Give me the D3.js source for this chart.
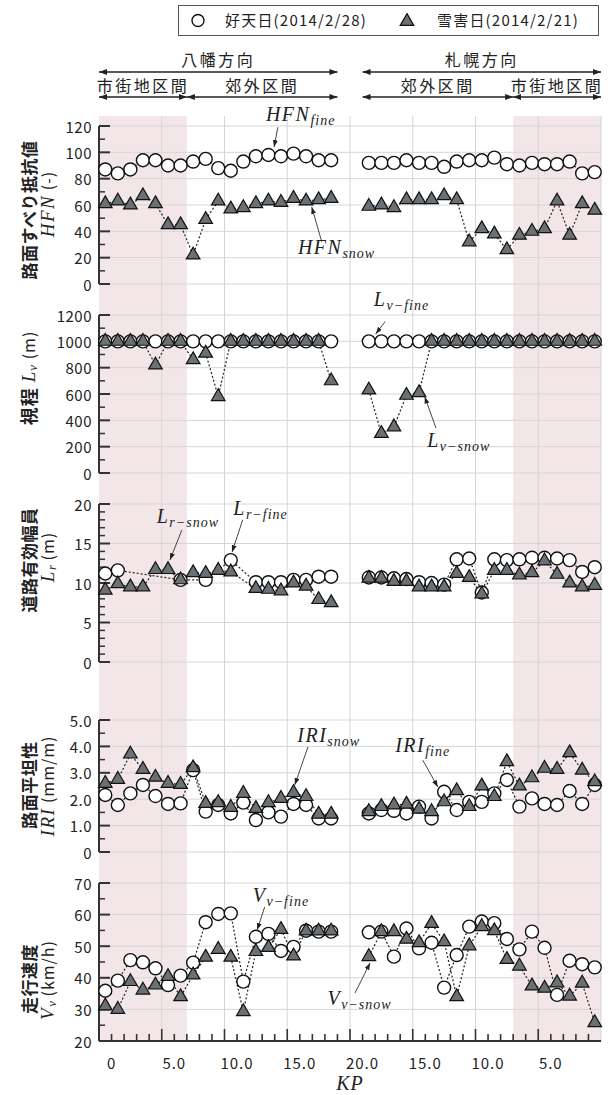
<!DOCTYPE html>
<html>
<head>
<meta charset="utf-8">
<script src="https://cdn.jsdelivr.net/npm/d3@7"></script>
<style>
  body { margin: 0; background: #fff; }
  text { font-family: "Noto Sans CJK JP", "Noto Sans", sans-serif; fill: #222; }
  .serif { font-family: "Liberation Serif", "DejaVu Serif", serif; font-style: italic; }
</style>
</head>
<body>
<div id="chart"></div>
<script>
// measurement slots along the route (八幡方向 = left, 札幌方向 = right)
const leftSlots = d3.range(0, 19);
const rightSlots = d3.range(21, 40);

// KP tick labels and the slot they sit on
const kpTickSlots = [1, 6, 11, 16, 21, 26, 31, 36];
const kpTickText = ["0", "5.0", "10.0", "15.0", "20.0", "15.0", "10.0", "5.0"];

// HFN (-)
const hfnFineL = [87, 84, 87, 94, 94, 90, 90, 93, 95, 88, 86, 93, 97, 98, 97, 99, 97, 94, 94];
const hfnSnowL = [61, 63, 60, 67, 61, 45, 45, 22, 49, 63, 57, 58, 61, 63, 62, 65, 63, 64, 65];
const hfnFineR = [92, 92, 92, 94, 92, 92, 89, 93, 94, 94, 96, 91, 90, 92, 91, 91, 93, 84, 85];
const hfnSnowR = [59, 60, 58, 64, 64, 64, 67, 64, 32, 42, 38, 26, 37, 40, 42, 63, 37, 61, 56];

// Lv (m)
const lvFineL = [1000, 1000, 1000, 1000, 1000, 1000, 1000, 1000, 1000, 1000, 1000, 1000, 1000, 1000, 1000, 1000, 1000, 1000, 1000];
const lvSnowL = [1000, 1000, 1000, 1000, 820, 1000, 1000, 860, 910, 580, 1000, 1000, 1000, 1000, 1000, 1000, 1000, 1000, 700];
const lvFineR = [1000, 1000, 1000, 1000, 1000, 1000, 1000, 1000, 1000, 1000, 1000, 1000, 1000, 1000, 1000, 1000, 1000, 1000, 1000];
const lvSnowR = [630, 300, 350, 590, 610, 1000, 1000, 1000, 1000, 1000, 1000, 1000, 1000, 1000, 1000, 1000, 1000, 1000, 1000];

// Lr (m)
const lrFineL = [11.2, 11.6, null, null, null, null, 10.4, null, 10.4, null, 12.9, null, 10.1, 10.1, 10.1, 10.4, 10.4, 10.8, 10.8];
const lrSnowL = [9.1, 9.9, 9.5, 9.5, 11.7, 11.7, 10.4, 11.3, 11.2, 11.6, 11.4, null, 9.3, 9.2, 9.0, 10.0, 9.6, 7.9, 7.5];
const lrFineR = [10.7, 10.7, 10.6, 10.5, 10.1, 10.0, 9.8, 13.0, 13.1, 8.8, 13.0, 12.9, 13.0, 13.2, 13.2, 13.1, 12.9, 11.4, 12.0];
const lrSnowR = [10.6, 10.6, 10.2, 10.2, 9.5, 9.5, 9.5, 11.2, 10.7, 8.6, 11.6, 11.6, 11.0, 11.3, 12.8, 11.1, 10.0, 9.5, 9.7];

// IRI (mm/m)
const iriFineL = [2.16, 1.78, 2.22, 2.54, 2.12, 1.82, 1.84, 3.1, 1.53, 1.78, 1.46, 1.87, 1.21, 1.5, 1.34, 1.82, 1.78, 1.27, 1.27];
const iriSnowL = [2.6, 2.75, 3.71, 3.13, 2.83, 2.6, 2.56, 3.19, 1.84, 1.87, 1.69, 2.22, 1.65, 1.87, 2.03, 2.25, 2.1, 1.43, 1.43];
const iriFineR = [1.46, 1.59, 1.56, 1.46, 1.72, 1.27, 2.28, 1.59, 1.9, 1.9, 2.22, 2.73, 1.72, 2.03, 1.82, 1.78, 2.31, 1.82, 2.54];
const iriSnowR = [1.53, 1.72, 1.78, 1.81, 1.62, 1.53, 1.9, 2.32, 1.72, 2.5, 2.1, 3.42, 2.5, 2.81, 3.17, 3.13, 3.76, 3.1, 2.66];

// Vv (km/h)
const vvFineL = [35.9, 39.1, 45.6, 44.9, 43.0, 37.7, 40.7, 44.8, 57.6, 60.2, 60.4, 38.8, 53.0, 53.9, 48.5, 49.8, 54.9, 54.6, 54.6];
const vvSnowL = [31.1, 30.0, 38.8, 36.1, 37.7, 40.4, 34.0, 40.9, 46.5, 49.0, 46.5, 29.3, 48.3, 49.6, 55.3, 46.9, 54.8, 54.8, 54.8];
const vvFineR = [54.4, 54.6, 46.7, 55.6, 49.3, 51.1, 36.9, 47.2, 56.2, 57.8, 57.3, 52.3, 49.0, 54.6, 49.5, 34.6, 45.4, 44.3, 43.3];
const vvSnowR = [46.7, 54.6, 54.6, 52.2, 51.1, 57.2, 51.4, 34.0, 50.1, 56.2, 54.9, 45.8, 43.7, 37.4, 36.7, 38.4, 34.2, 38.3, 25.8];

// urban (市街地) zones in slot units
const urbanZones = [[0, 7], [33, 40]];

const W = 610, H = 1095;
const plotLeft = 99, plotRight = 601, plotTop = 116, plotBottom = 1041;

const svg = d3.select("#chart").append("svg")
  .attr("width", W).attr("height", H);

const defs = svg.append("defs");
defs.append("marker")
  .attr("id", "head").attr("viewBox", "0 0 8 6")
  .attr("refX", 8).attr("refY", 3)
  .attr("markerWidth", 8).attr("markerHeight", 6)
  .attr("markerUnits", "userSpaceOnUse")
  .attr("orient", "auto-start-reverse")
  .append("path").attr("d", "M0,0L8,3L0,6z").attr("fill", "#222");
defs.append("marker")
  .attr("id", "small").attr("viewBox", "0 0 7 5")
  .attr("refX", 7).attr("refY", 2.5)
  .attr("markerWidth", 7).attr("markerHeight", 5)
  .attr("markerUnits", "userSpaceOnUse")
  .attr("orient", "auto")
  .append("path").attr("d", "M0,0L7,2.5L0,5z").attr("fill", "#222");

const x = d3.scaleLinear().domain([0, 40]).range([plotLeft, plotRight]);
const slotX = s => x(s + 0.5);

// panel setup
const panels = [
  { domain: [0, 120], range: [284, 126], major: 20, minor: 10, fmt: d3.format("d"),
    fine: [hfnFineL, hfnFineR], snow: [hfnSnowL, hfnSnowR] },
  { domain: [0, 1200], range: [473, 315], major: 200, minor: 100, fmt: d3.format("d"),
    fine: [lvFineL, lvFineR], snow: [lvSnowL, lvSnowR] },
  { domain: [0, 20], range: [662, 504], major: 5, minor: 1, fmt: d3.format("d"),
    fine: [lrFineL, lrFineR], snow: [lrSnowL, lrSnowR] },
  { domain: [0, 5], range: [852, 720], major: 1, minor: 0.5, fmt: d => d === 0 ? "0" : d3.format(".1f")(d),
    fine: [iriFineL, iriFineR], snow: [iriSnowL, iriSnowR] },
  { domain: [20, 70], range: [1041, 883], major: 10, minor: 5, fmt: d3.format("d"),
    fine: [vvFineL, vvFineR], snow: [vvSnowL, vvSnowR] }
];
panels.forEach(p => { p.y = d3.scaleLinear().domain(p.domain).range(p.range); });

// pink urban shading
svg.append("g").selectAll("rect").data(urbanZones).join("rect")
  .attr("x", d => x(d[0])).attr("width", d => x(d[1]) - x(d[0]))
  .attr("y", plotTop).attr("height", plotBottom - plotTop)
  .attr("fill", "#f3e6e9");

// vertical grid
svg.append("g").selectAll("line").data(d3.range(5, 41, 5)).join("line")
  .attr("x1", d => x(d)).attr("x2", d => x(d))
  .attr("y1", plotTop).attr("y2", plotBottom)
  .attr("stroke", "#d6d6d6").attr("stroke-width", 1);

// horizontal grid + y axes per panel
panels.forEach(p => {
  const majors = d3.range(p.domain[0], p.domain[1] + p.major / 2, p.major);
  const minors = d3.range(p.domain[0] + p.minor, p.domain[1], p.minor)
    .filter(v => Math.abs(v / p.major - Math.round(v / p.major)) > 1e-6);
  svg.append("g").selectAll("line").data(majors).join("line")
    .attr("x1", plotLeft).attr("x2", plotRight)
    .attr("y1", d => p.y(d)).attr("y2", d => p.y(d))
    .attr("stroke", "#d6d6d6").attr("stroke-width", 1);

  const ax = svg.append("g");
  ax.append("line")
    .attr("x1", plotLeft).attr("x2", plotLeft)
    .attr("y1", p.y(p.domain[1])).attr("y2", p.y(p.domain[0]))
    .attr("stroke", "#333").attr("stroke-width", 2);
  ax.selectAll(".maj").data(majors).join("line")
    .attr("x1", plotLeft).attr("x2", plotLeft + 11)
    .attr("y1", d => p.y(d)).attr("y2", d => p.y(d))
    .attr("stroke", "#333").attr("stroke-width", 2);
  ax.selectAll(".min").data(minors).join("line")
    .attr("x1", plotLeft).attr("x2", plotLeft + 6)
    .attr("y1", d => p.y(d)).attr("y2", d => p.y(d))
    .attr("stroke", "#333").attr("stroke-width", 1.5);
  ax.selectAll("text").data(majors).join("text")
    .attr("x", 92).attr("y", d => p.y(d))
    .attr("text-anchor", "end").attr("dominant-baseline", "central")
    .attr("font-size", 15).attr("letter-spacing", 0.5).attr("fill", "#333")
    .text(p.fmt);
});

// bottom KP axis
const xAx = svg.append("g");
xAx.append("line")
  .attr("x1", plotLeft).attr("x2", plotRight)
  .attr("y1", plotBottom).attr("y2", plotBottom)
  .attr("stroke", "#333").attr("stroke-width", 2);
xAx.selectAll(".t").data(d3.range(1, 40)).join("line")
  .attr("x1", d => x(d)).attr("x2", d => x(d))
  .attr("y1", plotBottom).attr("y2", d => plotBottom - (d % 5 === 0 ? 12 : 7))
  .attr("stroke", "#333").attr("stroke-width", 1.6);
xAx.selectAll("text").data(kpTickSlots).join("text")
  .attr("x", d => x(d)).attr("y", 1062)
  .attr("text-anchor", "middle").attr("dominant-baseline", "central")
  .attr("font-size", 15).attr("letter-spacing", 1).attr("fill", "#333")
  .text((d, i) => kpTickText[i]);
svg.append("text").attr("class", "serif")
  .attr("x", 350).attr("y", 1090).attr("text-anchor", "middle")
  .attr("font-size", 20).attr("letter-spacing", 1).text("KP");

// series
const tri = d3.symbol().type(d3.symbolTriangle).size(80);
panels.forEach(p => {
  const g = svg.append("g");
  const sections = [leftSlots, rightSlots];
  const pts = vals => sections.map((slots, k) =>
    slots.map((s, i) => ({ s, v: vals[k][i] })).filter(d => d.v != null));
  const fine = pts(p.fine), snow = pts(p.snow);
  const line = d3.line().x(d => slotX(d.s)).y(d => p.y(d.v));
  [fine, snow].forEach(series => series.forEach(sec => {
    g.append("path").datum(sec).attr("d", line)
      .attr("fill", "none").attr("stroke", "#222")
      .attr("stroke-width", 1.2).attr("stroke-dasharray", "2,2");
  }));
  g.selectAll("circle").data(fine.flat()).join("circle")
    .attr("cx", d => slotX(d.s)).attr("cy", d => p.y(d.v)).attr("r", 6.5)
    .attr("fill", "#fff").attr("stroke", "#111").attr("stroke-width", 1.4);
  g.selectAll(".tri").data(snow.flat()).join("path")
    .attr("d", tri)
    .attr("transform", d => `translate(${slotX(d.s)},${p.y(d.v)})`)
    .attr("fill", "#6b7074").attr("stroke", "#111").attr("stroke-width", 1.2);
});

// annotations (positions in slot / value units of each panel)
const notes = [
  { p: 0, main: "HFN", sub: "fine", t: [13.3, 123.5], a: [14.25, 119, 13.95, 104] },
  { p: 0, main: "HFN", sub: "snow", t: [15.85, 23], a: [17.75, 32, 16.95, 58.5] },
  { p: 1, main: "L", sub: "v−fine", t: [21.9, 1265], a: [22.8, 1150, 22.05, 1056] },
  { p: 1, main: "L", sub: "v−snow", t: [26.15, 197], a: [26.85, 342, 25.95, 580] },
  { p: 2, main: "L", sub: "r−snow", t: [4.6, 17.6], a: [6.6, 16.7, 5.65, 12.9] },
  { p: 2, main: "L", sub: "r−fine", t: [10.7, 18.6], a: [11.45, 18.0, 10.6, 13.9] },
  { p: 3, main: "IRI", sub: "snow", t: [15.8, 4.17], a: [16.65, 3.98, 15.6, 2.54] },
  { p: 3, main: "IRI", sub: "fine", t: [23.6, 3.79], a: [25.8, 3.48, 27.0, 2.46] },
  { p: 4, main: "V", sub: "v−fine", t: [12.25, 64], a: [13.2, 62.4, 12.6, 55.1] },
  { p: 4, main: "V", sub: "v−snow", t: [18.2, 31.4], a: [20.4, 35.2, 21.6, 44.7] }
];
notes.forEach(n => {
  const y = panels[n.p].y;
  const t = svg.append("text").attr("class", "serif")
    .attr("x", x(n.t[0])).attr("y", y(n.t[1]))
    .attr("font-size", 20).attr("fill", "#222");
  t.append("tspan").attr("letter-spacing", 1.5).text(n.main);
  t.append("tspan").attr("font-size", 14).attr("dy", 4).attr("letter-spacing", 1).text(n.sub);
  svg.append("line")
    .attr("x1", x(n.a[0])).attr("y1", y(n.a[1]))
    .attr("x2", x(n.a[2])).attr("y2", y(n.a[3]))
    .attr("stroke", "#333").attr("stroke-width", 0.9)
    .attr("marker-end", "url(#small)");
});

// y axis titles
const titles = [
  { cy: 210, l1: "路面すべり抵抗値", l2cy: 204, l2: [["HFN", "serif"], [" (-)", ""]] },
  { cy: 378, l1: null, l2: null },
  { cy: 560, l1: "道路有効幅員", l2cy: 557, l2: [["L", "serif"], ["r", "sub"], [" (m)", "up"]] },
  { cy: 785, l1: "路面平坦性", l2cy: 786, l2: [["IRI", "serif"], [" (mm/m)", ""]] },
  { cy: 979, l1: "走行速度", l2cy: 980, l2: [["V", "serif"], ["v", "sub"], [" (km/h)", "up"]] }
];
function addParts(t, parts) {
  parts.forEach(([s, kind]) => {
    const ts = t.append("tspan").text(s);
    if (kind === "serif") ts.attr("class", "serif").attr("font-size", 19).attr("letter-spacing", 1.5);
    if (kind === "sub") ts.attr("class", "serif").attr("font-size", 13).attr("dy", 4);
    if (kind === "up") ts.attr("font-size", 16).attr("dy", -4).attr("letter-spacing", 1);
    if (kind === "") ts.attr("font-size", 16).attr("letter-spacing", 1);
  });
}
titles.forEach((tt, i) => {
  if (i === 1) {
    const t = svg.append("text")
      .attr("transform", `translate(28,${tt.cy}) rotate(-90)`)
      .attr("text-anchor", "middle").attr("dominant-baseline", "central")
      .attr("font-size", 18).attr("font-weight", "bold").attr("letter-spacing", 1);
    t.append("tspan").text("視程 ");
    t.append("tspan").attr("class", "serif").attr("font-weight", "normal").attr("font-size", 19).text("L");
    t.append("tspan").attr("class", "serif").attr("font-weight", "normal").attr("font-size", 13).attr("dy", 4).text("v");
    t.append("tspan").attr("font-size", 16).attr("font-weight", "normal").attr("dy", -4).text(" (m)");
    return;
  }
  svg.append("text")
    .attr("transform", `translate(28,${tt.cy}) rotate(-90)`)
    .attr("text-anchor", "middle").attr("dominant-baseline", "central")
    .attr("font-size", 17).attr("font-weight", "bold").attr("letter-spacing", 0.5).text(tt.l1);
  const t2 = svg.append("text")
    .attr("transform", `translate(47,${tt.l2cy}) rotate(-90)`)
    .attr("text-anchor", "middle").attr("dominant-baseline", "central")
    .attr("font-size", 16);
  addParts(t2, tt.l2);
});

// direction headers
const hdr = svg.append("g");
const spans = [
  { a: 0, b: 19, y: 72, label: "八幡方向", ty: 66 },
  { a: 21, b: 40, y: 72, label: "札幌方向", ty: 66 },
  { a: 0, b: 7, y: 97, label: "市街地区間", ty: 92 },
  { a: 7, b: 19, y: 97, label: "郊外区間", ty: 92 },
  { a: 21, b: 33, y: 97, label: "郊外区間", ty: 92 },
  { a: 33, b: 40, y: 97, label: "市街地区間", ty: 92 }
];
spans.forEach(s => {
  hdr.append("line")
    .attr("x1", x(s.a)).attr("x2", x(s.b)).attr("y1", s.y).attr("y2", s.y)
    .attr("stroke", "#222").attr("stroke-width", 1.3)
    .attr("marker-start", "url(#head)").attr("marker-end", "url(#head)");
  hdr.append("text")
    .attr("x", (x(s.a) + x(s.b)) / 2).attr("y", s.ty)
    .attr("text-anchor", "middle").attr("font-size", 16).attr("letter-spacing", 2.5)
    .text(s.label);
});

// legend
const lg = svg.append("g");
lg.append("rect").attr("x", 178.5).attr("y", 5.5).attr("width", 420).attr("height", 30)
  .attr("fill", "#fff").attr("stroke", "#555").attr("stroke-width", 1);
lg.append("circle").attr("cx", 198).attr("cy", 20.5).attr("r", 6)
  .attr("fill", "#fff").attr("stroke", "#111").attr("stroke-width", 1.4);
lg.append("text").attr("x", 225).attr("y", 26).attr("font-size", 15).attr("letter-spacing", 1.2)
  .text("好天日(2014/2/28)");
lg.append("path").attr("d", tri).attr("transform", "translate(407,21.5)")
  .attr("fill", "#6b7074").attr("stroke", "#111").attr("stroke-width", 1.2);
lg.append("text").attr("x", 437).attr("y", 26).attr("font-size", 15).attr("letter-spacing", 1.2)
  .text("雪害日(2014/2/21)");
</script>
</body>
</html>
